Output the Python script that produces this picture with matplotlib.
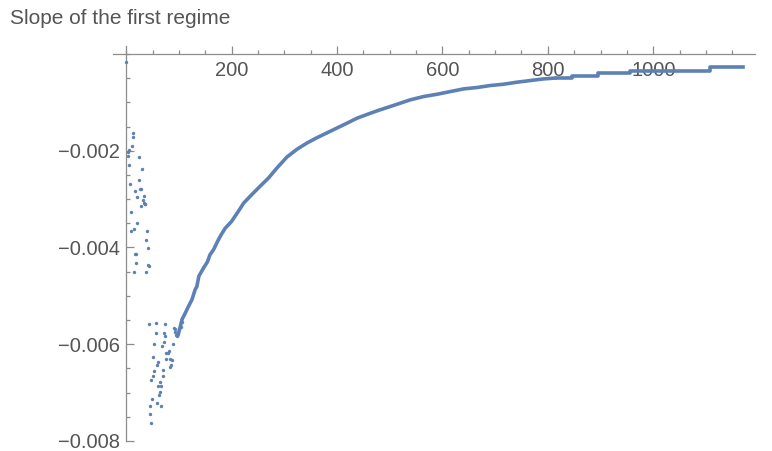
import matplotlib
matplotlib.use('Agg')
import matplotlib.pyplot as plt
from matplotlib.ticker import FixedLocator, MultipleLocator, FuncFormatter

plt.rcParams.update({
    'font.family': ['Liberation Sans', 'DejaVu Sans'],
})

BLUE = "#5E81B5"
GRAY = "#555555"
AXIS = "#8c8c8c"

# early scattered values (index, slope)
scatter_x = [0, 12, 13, 11, 6, 4, 3, 25, 5, 30, 8, 24, 16, 28, 27, 20, 33, 31, 29, 36,
             34, 35, 9, 21, 15, 10, 40, 37, 41, 17, 18, 19, 42, 43, 14, 38,
             44, 57, 73, 56, 72, 74, 52, 71, 89, 68, 81, 80, 75, 51, 76, 83, 86, 61,
             85, 84, 58, 70, 53, 50, 69, 48, 65, 60, 66, 64, 62, 49, 59, 45, 67, 46, 47,
             90, 92, 93, 95, 96, 104, 105]
scatter_y = [-0.000165, -0.001635, -0.001718, -0.001897, -0.001986, -0.002035, -0.002118,
             -0.00213, -0.002289, -0.002377, -0.002687, -0.002604, -0.002825, -0.002784,
             -0.00279, -0.002955, -0.002928, -0.00301, -0.003134, -0.003093, -0.00307,
             -0.0031, -0.003264, -0.003491, -0.003615, -0.003664, -0.003664, -0.003835,
             -0.004006, -0.004144, -0.004144, -0.004315, -0.004357, -0.004392, -0.004501,
             -0.004501,
             -0.005581, -0.005553, -0.005588, -0.005773, -0.005773, -0.005821, -0.005986,
             -0.005944, -0.005986, -0.006035, -0.006138, -0.006186, -0.006186, -0.006254,
             -0.006295, -0.006295, -0.00633, -0.006377, -0.006433, -0.00648, -0.006433,
             -0.00653, -0.006563, -0.006654, -0.006654, -0.006742, -0.00679, -0.006872,
             -0.006872, -0.006996, -0.007052, -0.007134, -0.007223, -0.007272, -0.007272,
             -0.00745, -0.007623,
             -0.00566, -0.00569, -0.00574, -0.0058, -0.00583, -0.005635, -0.00555]

# smooth regime
curve_x = [98, 103, 106, 111, 117, 125, 131, 134, 138, 147, 154, 159, 166, 174, 180,
           188, 200, 213, 223, 238, 254, 270, 286, 305, 324, 343, 362, 381, 400, 419,
           438, 457, 480, 501, 520, 539, 564, 590, 615, 640, 665, 690, 716, 741, 766,
           792, 817]
curve_y = [-0.00583, -0.00562, -0.005485, -0.005381, -0.005244, -0.005072, -0.004866,
           -0.00481, -0.00459, -0.00442, -0.0043, -0.00415, -0.00404, -0.00386, -0.00374,
           -0.0036, -0.00346, -0.00325, -0.00308, -0.00291, -0.002735, -0.002564,
           -0.002357, -0.00213, -0.00197, -0.00184, -0.00173, -0.00163, -0.00153,
           -0.00143, -0.001327, -0.00125, -0.00116, -0.001086, -0.001017, -0.000948,
           -0.00088, -0.000832, -0.000777, -0.000722, -0.000694, -0.000653, -0.000625,
           -0.000584, -0.00055, -0.000515, -0.000495]

# plateaus at the end
tail_x = [817, 845, 896, 956, 1108, 1171]
tail_y = [-0.000495, -0.000454, -0.000402, -0.00035, -0.000278, -0.000278]

fig = plt.figure(figsize=(7.72, 4.51), dpi=100)
ax = fig.add_axes([113/772, 1 - 441/451, (755 - 113)/772, (441 - 46)/451])

ax.scatter(scatter_x, scatter_y, s=6, color=BLUE, lw=0, zorder=3)
ax.plot(curve_x, curve_y, color=BLUE, lw=2.6, solid_capstyle='butt', zorder=3)
ax.plot(tail_x, tail_y, color=BLUE, lw=2.6, drawstyle='steps-post', zorder=3)

ax.set_xlim(-25, 1193)
ax.set_ylim(-0.008, 0.000165)

for s in ['top', 'right']:
    ax.spines[s].set_visible(False)
ax.spines['left'].set_position(('data', 0))
ax.spines['bottom'].set_position(('data', 0))
for s in ['left', 'bottom']:
    ax.spines[s].set_color(AXIS)
    ax.spines[s].set_linewidth(0.9)

ax.xaxis.set_major_locator(FixedLocator([200, 400, 600, 800, 1000]))
ax.xaxis.set_minor_locator(MultipleLocator(50))
ax.yaxis.set_major_locator(FixedLocator([-0.008, -0.006, -0.004, -0.002]))
ax.yaxis.set_minor_locator(MultipleLocator(0.0005))
ax.yaxis.set_major_formatter(FuncFormatter(lambda v, p: f"{v:.3f}".replace('-', '\u2212')))

ax.tick_params(which='both', direction='in', color=AXIS, width=0.9, labelcolor=GRAY,
               labelsize=14.5)
ax.tick_params(which='major', length=5.5)
ax.tick_params(which='minor', length=3)
ax.tick_params(axis='x', which='major', pad=5)
ax.tick_params(axis='y', which='major', pad=4.5)

fig.text(10/772, 1 - 18/451, "Slope of the first regime", ha='left', va='center',
         fontsize=15, color=GRAY)

fig.savefig("out.png", dpi=100)
